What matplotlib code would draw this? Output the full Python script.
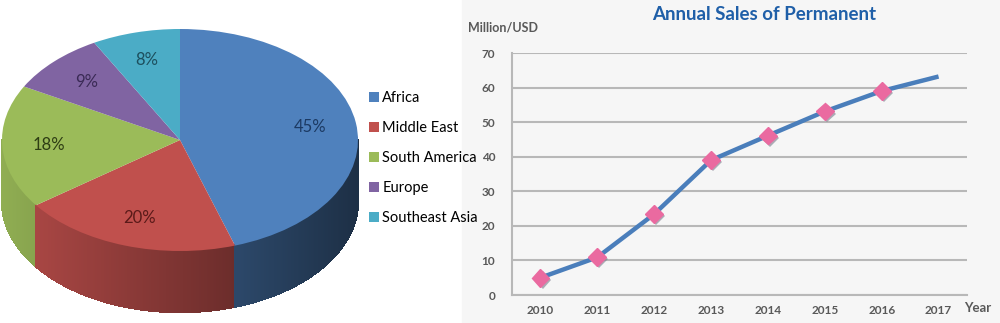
import numpy as np
import matplotlib
matplotlib.use("Agg")
import matplotlib.pyplot as plt
import matplotlib.patheffects as pe
from matplotlib.collections import PolyCollection
from matplotlib.colors import to_rgb
from matplotlib.patches import Rectangle

plt.rcParams['font.family'] = ['Lato', 'DejaVu Sans']

# datos del pastel
regiones = ["Africa", "Middle East", "South America", "Europe", "Southeast Asia"]
porcentajes = [45, 20, 18, 9, 8]
colores = ["#4f81bd", "#c0504d", "#9bbb59", "#8064a2", "#4bacc6"]
colores_texto = ["#1c3a63", "#5a1a19", "#2e3d14", "#3a2a55", "#1d4f5e"]

# datos de ventas
anios = ["2010", "2011", "2012", "2013", "2014", "2015", "2016", "2017"]
ventas = [5.0, 10.9, 23.4, 39.0, 46.1, 53.1, 59.0, 63.2]

fig = plt.figure(figsize=(10, 3.23), dpi=100)
fig.patches.append(Rectangle((0.462, 0), 0.538, 1, transform=fig.transFigure,
                             color="#f6f6f6", zorder=-5))

# -----------------------
# Pastel con efecto 3D
# -----------------------
ax1 = fig.add_axes([0, 0, 0.36, 1])
wedges, _, autotexts = ax1.pie(porcentajes, colors=colores, startangle=90,
                               counterclock=False, autopct="%1.0f%%",
                               pctdistance=0.74,
                               wedgeprops={"zorder": 3, "linewidth": 0},
                               textprops={"zorder": 5, "fontsize": 12})
for t, c in zip(autotexts, colores_texto):
    t.set_color(c)

# lado visible del cilindro (mitad frontal)
profundidad = 0.55
limites = 90 - np.cumsum([0] + porcentajes) * 3.6
angulos = np.linspace(180, 360, 361)
polys, caras = [], []
for a0, a1 in zip(angulos[:-1], angulos[1:]):
    am = (a0 + a1) / 2
    am_norm = am if am <= 90 else am - 360
    idx = 0
    for i in range(len(porcentajes)):
        if limites[i + 1] <= am_norm <= limites[i]:
            idx = i
    r0, r1 = np.radians(a0), np.radians(a1)
    x0, y0 = np.cos(r0), np.sin(r0)
    x1, y1 = np.cos(r1), np.sin(r1)
    polys.append([(x0, y0), (x1, y1), (x1, y1 - profundidad), (x0, y0 - profundidad)])
    factor = 0.65 - 0.28 * np.cos(np.radians(am))
    caras.append(tuple(np.array(to_rgb(colores[idx])) * factor))
ax1.add_collection(PolyCollection(polys, facecolors=caras, edgecolors=caras,
                                  linewidths=1.0, antialiaseds=False, zorder=1))

ax1.set_aspect("auto")
ax1.set_xlim(-180 / 178, 180 / 178)
ax1.set_ylim((140 - 323) / 111, 140 / 111)
ax1.axis("off")

fig.legend(wedges, regiones, loc="center left",
           bbox_to_anchor=(0.356, 1 - 158 / 323), frameon=False,
           handlelength=0.65, handleheight=0.65, handletextpad=0.25,
           labelspacing=1.1, fontsize=10.5)

# -----------------------
# Ventas anuales
# -----------------------
gris = "#595959"
ax2 = fig.add_axes([0.512, 1 - 295 / 323, 0.455, (295 - 53) / 323])
ax2.set_facecolor("none")
x = np.arange(len(anios))
ax2.plot(x, ventas, color="#4a7ebb", lw=3.2, zorder=3,
         solid_capstyle="butt", solid_joinstyle="round")
ax2.plot(x[:-1], ventas[:-1], ls="none", marker="D", ms=9,
         color="#ea6aa0", mec="#ea6aa0", zorder=4,
         path_effects=[pe.SimplePatchShadow(offset=(1.5, -1.5),
                                            shadow_rgbFace="#7a7a8a", alpha=0.6),
                       pe.Normal()])

ax2.set_xlim(-0.5, len(anios) - 0.5)
ax2.set_ylim(0, 70)
ax2.set_yticks(range(0, 71, 10))
ax2.set_xticks(x)
ax2.set_xticklabels(anios)
ax2.yaxis.grid(True, color="#b8b8b8", lw=1.5)
ax2.set_axisbelow(True)
for lado in ["top", "right"]:
    ax2.spines[lado].set_visible(False)
for lado in ["left", "bottom"]:
    ax2.spines[lado].set_color("#b8b8b8")
    ax2.spines[lado].set_linewidth(1.5)
ax2.tick_params(length=0, labelsize=8.5, labelcolor=gris)
ax2.tick_params(axis="y", pad=12)
ax2.tick_params(axis="x", pad=7)
for lbl in ax2.get_xticklabels() + ax2.get_yticklabels():
    lbl.set_fontweight("bold")

fig.text(0.764, 1 - 14 / 323, "Annual Sales of Permanent", ha="center",
         va="center", color="#1f5fa8", fontsize=13.5, fontweight="bold")
fig.text(0.468, 1 - 28 / 323, "Million/USD", ha="left", va="center",
         color=gris, fontsize=9, fontweight="bold")
fig.text(0.978, 1 - 308 / 323, "Year", ha="center", va="center",
         color=gris, fontsize=9.5, fontweight="bold")

plt.savefig("out.png")
plt.close()
